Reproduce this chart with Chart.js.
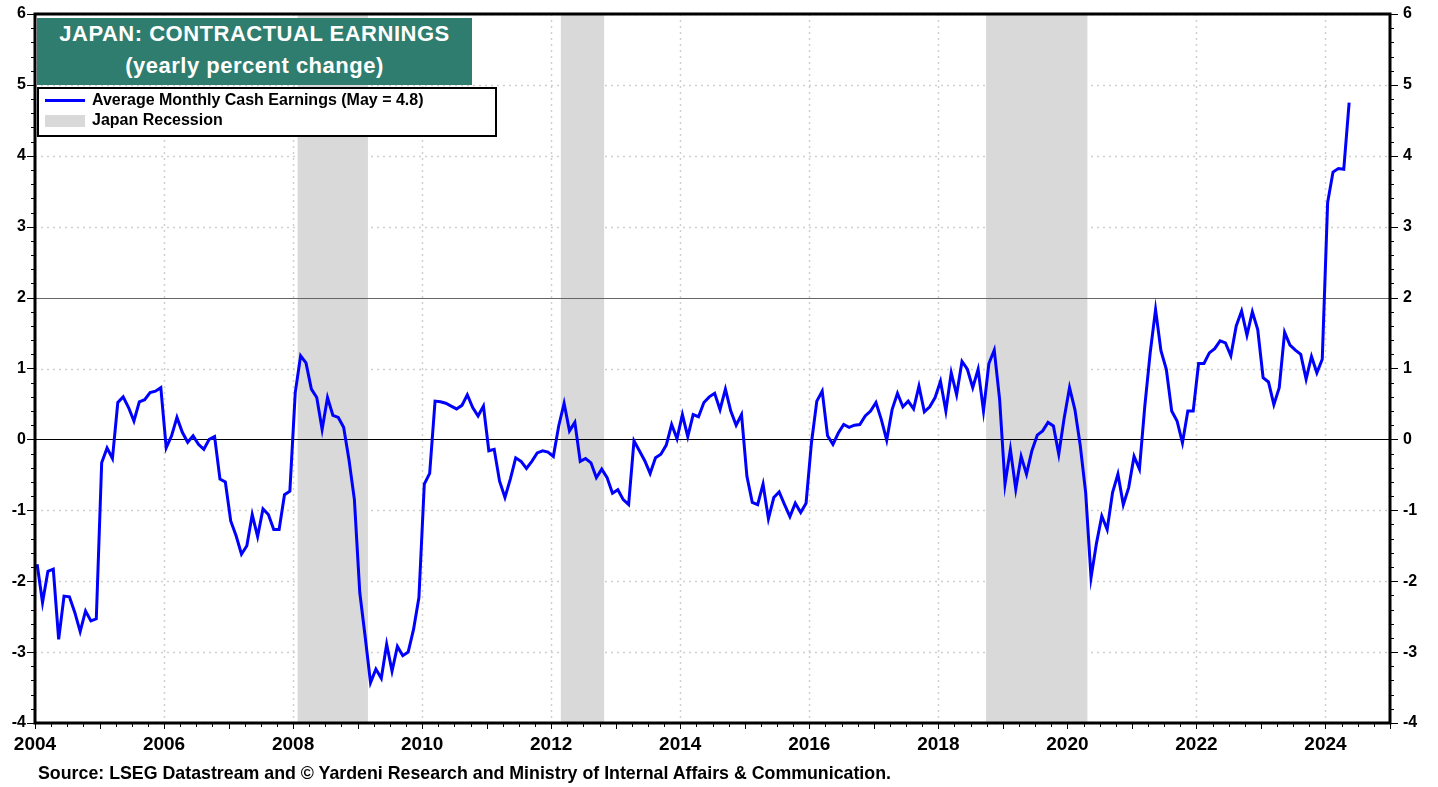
<!DOCTYPE html>
<html>
<head>
<meta charset="utf-8">
<script src="https://cdn.jsdelivr.net/npm/chart.js@4.4.1/dist/chart.umd.min.js"></script>
<style>
  body { margin: 0; background: #fff; }
  #wrap { position: relative; width: 1438px; height: 787px; }
  #title {
    position: absolute; left: 37px; top: 18px; width: 435px; height: 67px;
    background: #2f7d6e; color: #fff; text-align: center;
    font: bold 22px "Liberation Sans", Arial, sans-serif; line-height: 32px;
    letter-spacing: 0.5px;
  }
  #legend {
    position: absolute; left: 37px; top: 87px; width: 460px; height: 50px;
    box-sizing: border-box; border: 2px solid #000; background: #fff;
    font: bold 16px "Liberation Sans", Arial, sans-serif; color: #000;
  }
  #legend .row { position: absolute; left: 53px; line-height: 20px; }
  #legend .line { position: absolute; left: 6px; top: 10px; width: 40px; height: 3px; background: #0000ff; }
  #legend .box { position: absolute; left: 6px; top: 26px; width: 40px; height: 12px; background: #d9d9d9; }
  #source {
    position: absolute; left: 38px; top: 763px;
    font: bold 17.8px "Liberation Sans", Arial, sans-serif; color: #000;
  }
</style>
</head>
<body>
<div id="wrap">
  <canvas id="chart" width="1438" height="787"></canvas>
  <div id="title">JAPAN: CONTRACTUAL EARNINGS<br>(yearly percent change)</div>
  <div id="legend">
    <div class="line"></div>
    <div class="row" style="top:1px">Average Monthly Cash Earnings (May = 4.8)</div>
    <div class="box"></div>
    <div class="row" style="top:21px">Japan Recession</div>
  </div>
  <div id="source">Source: LSEG Datastream and © Yardeni Research and Ministry of Internal Affairs &amp; Communication.</div>
</div>
<script>
// Monthly yearly % change, Jan 2004 .. May 2024
const startYear = 2004;
const earnings = [
    -1.76, -2.30, -1.86, -1.83, -2.82, -2.21, -2.22, -2.44, -2.71, -2.42, -2.56, -2.53, // 2004
    -0.33, -0.12, -0.27, 0.52, 0.60, 0.45, 0.26, 0.53, 0.56, 0.66, 0.68, 0.73,         // 2005
    -0.12, 0.05, 0.31, 0.10, -0.04, 0.05, -0.07, -0.14, 0.00, 0.04, -0.56, -0.60,       // 2006
    -1.15, -1.36, -1.62, -1.50, -1.06, -1.37, -0.98, -1.06, -1.27, -1.27, -0.78, -0.73, // 2007
    0.66, 1.18, 1.08, 0.71, 0.59, 0.14, 0.59, 0.34, 0.31, 0.17, -0.29, -0.85,           // 2008
    -2.16, -2.78, -3.43, -3.24, -3.37, -2.89, -3.27, -2.92, -3.05, -3.00, -2.68, -2.23, // 2009
    -0.63, -0.48, 0.54, 0.53, 0.51, 0.47, 0.43, 0.48, 0.63, 0.45, 0.33, 0.47,          // 2010
    -0.16, -0.14, -0.59, -0.82, -0.56, -0.26, -0.31, -0.41, -0.31, -0.19, -0.16, -0.18, // 2011
    -0.24, 0.19, 0.51, 0.12, 0.24, -0.31, -0.27, -0.33, -0.54, -0.42, -0.54, -0.76,     // 2012
    -0.71, -0.85, -0.92, -0.02, -0.16, -0.30, -0.48, -0.26, -0.21, -0.08, 0.21, 0.01,   // 2013
    0.35, 0.04, 0.35, 0.32, 0.52, 0.60, 0.65, 0.42, 0.71, 0.40, 0.20, 0.35,            // 2014
    -0.52, -0.89, -0.92, -0.63, -1.12, -0.82, -0.74, -0.92, -1.09, -0.90, -1.03, -0.90, // 2015
    -0.05, 0.54, 0.68, 0.05, -0.07, 0.09, 0.21, 0.17, 0.20, 0.21, 0.33, 0.40,          // 2016
    0.52, 0.28, -0.01, 0.42, 0.65, 0.46, 0.54, 0.43, 0.75, 0.39, 0.46, 0.59,           // 2017
    0.82, 0.40, 0.94, 0.63, 1.10, 0.99, 0.73, 0.99, 0.40, 1.07, 1.26, 0.56,            // 2018
    -0.63, -0.14, -0.70, -0.24, -0.49, -0.16, 0.06, 0.12, 0.24, 0.19, -0.21, 0.30,      // 2019
    0.73, 0.42, -0.09, -0.75, -1.95, -1.47, -1.08, -1.27, -0.75, -0.49, -0.92, -0.68,   // 2020
    -0.24, -0.42, 0.47, 1.22, 1.83, 1.25, 0.99, 0.40, 0.26, -0.05, 0.40, 0.40,          // 2021
    1.07, 1.07, 1.22, 1.28, 1.39, 1.36, 1.18, 1.60, 1.81, 1.47, 1.80, 1.55,            // 2022
    0.87, 0.81, 0.49, 0.73, 1.51, 1.33, 1.26, 1.20, 0.85, 1.17, 0.94, 1.13,            // 2023
    3.34, 3.77, 3.82, 3.81, 4.75                                                        // 2024
];

// Japan recessions (decimal years)
const recessionStart = [2008.07, 2012.15, 2018.74];
const recessionEnd = [2009.16, 2012.82, 2020.31];

// Axis ticks
const yTicks = [-4, -3, -2, -1, 0, 1, 2, 3, 4, 5, 6];
const xTicks = [2004, 2006, 2008, 2010, 2012, 2014, 2016, 2018, 2020, 2022, 2024];

const points = earnings.map((v, i) => ({
    x: startYear + Math.floor(i / 12) + ((i % 12) + 0.4) / 12,
    y: v
}));

const tickFont = { family: "'Liberation Sans', Arial, sans-serif", size: 16, weight: 'bold' };
const xFont = { family: "'Liberation Sans', Arial, sans-serif", size: 19, weight: 'bold' };

// fixed axis sizes so the plot area lines up with the original
function fitY(width) {
    return s => {
        s.width = width;
        s.paddingTop = 0;
        s.paddingBottom = 0;
    };
}

// Grid, recession shading and reference lines behind the series
const backdrop = {
    id: 'backdrop',
    beforeDatasetsDraw(chart) {
        const { ctx, chartArea: a, scales } = chart;
        const x = scales.x, y = scales.y;
        ctx.save();
        ctx.strokeStyle = '#cfcfcf';
        ctx.lineWidth = 1.5;
        ctx.setLineDash([2, 4]);
        yTicks.forEach(v => {
            if (v === 0 || v === 2) return;
            const py = Math.round(y.getPixelForValue(v)) + 0.5;
            ctx.beginPath(); ctx.moveTo(a.left, py); ctx.lineTo(a.right, py); ctx.stroke();
        });
        xTicks.forEach(v => {
            const px = Math.round(x.getPixelForValue(v)) + 0.5;
            ctx.beginPath(); ctx.moveTo(px, a.top); ctx.lineTo(px, a.bottom); ctx.stroke();
        });
        ctx.setLineDash([]);

        // recession bars
        ctx.fillStyle = '#d9d9d9';
        recessionStart.forEach((s, i) => {
            const x0 = x.getPixelForValue(s), x1 = x.getPixelForValue(recessionEnd[i]);
            ctx.fillRect(x0, a.top, x1 - x0, a.bottom - a.top);
        });

        // zero line and 2% line
        ctx.lineWidth = 1.2;
        ctx.strokeStyle = '#000';
        let py = Math.round(y.getPixelForValue(0)) + 0.5;
        ctx.beginPath(); ctx.moveTo(a.left, py); ctx.lineTo(a.right, py); ctx.stroke();
        ctx.strokeStyle = '#666';
        py = Math.round(y.getPixelForValue(2)) + 0.5;
        ctx.beginPath(); ctx.moveTo(a.left, py); ctx.lineTo(a.right, py); ctx.stroke();
        ctx.restore();
    },
    afterDraw(chart) {
        const { ctx, chartArea: a, scales } = chart;
        const x = scales.x, y = scales.y;
        ctx.save();
        ctx.strokeStyle = '#000';
        // minor / major ticks on y axes
        ctx.lineWidth = 1;
        for (let v = -4; v <= 6.001; v += 0.2) {
            const py = Math.round(y.getPixelForValue(v)) + 0.5;
            const major = Math.abs(v - Math.round(v)) < 0.01;
            const len = major ? 8 : 4;
            ctx.beginPath();
            ctx.moveTo(a.left - len, py); ctx.lineTo(a.left, py);
            ctx.moveTo(a.right, py); ctx.lineTo(a.right + len, py);
            ctx.stroke();
        }
        // quarterly ticks on x axis
        for (let v = 2004; v <= 2025.001; v += 0.25) {
            const px = Math.round(x.getPixelForValue(v)) + 0.5;
            const major = Math.abs(v - Math.round(v)) < 0.01;
            ctx.beginPath();
            ctx.moveTo(px, a.bottom); ctx.lineTo(px, a.bottom + (major ? 6 : 4));
            ctx.stroke();
        }
        // frame
        ctx.lineWidth = 3;
        ctx.strokeRect(a.left, a.top, a.right - a.left, a.bottom - a.top);
        ctx.restore();
    }
};

const ctx = document.getElementById('chart').getContext('2d');
const chart = new Chart(ctx, {
    type: 'line',
    data: {
        datasets: [{
            label: 'Average Monthly Cash Earnings (May = 4.8)',
            data: points,
            borderColor: '#0000ff',
            borderWidth: 3,
            pointRadius: 0,
            tension: 0,
            fill: false
        }]
    },
    options: {
        responsive: false,
        animation: false,
        events: [],
        layout: { padding: { top: 14, left: 0, right: 0, bottom: 0 } },
        plugins: { legend: { display: false }, tooltip: { enabled: false } },
        scales: {
            x: {
                type: 'linear',
                min: 2004,
                max: 2025,
                afterFit: s => { s.height = 64; s.paddingLeft = 0; s.paddingRight = 0; },
                afterBuildTicks: s => { s.ticks = xTicks.map(v => ({ value: v })); },
                grid: { display: false, drawTicks: false },
                border: { display: false },
                ticks: { autoSkip: false, maxRotation: 0, padding: 10, color: '#000', font: xFont, callback: v => String(v) }
            },
            y: {
                position: 'left',
                min: -4,
                max: 6,
                afterFit: fitY(35),
                afterBuildTicks: s => { s.ticks = yTicks.map(v => ({ value: v })); },
                grid: { display: false, drawTicks: false },
                border: { display: false },
                ticks: { padding: 9, color: '#000', font: tickFont, callback: v => String(v) }
            },
            y2: {
                position: 'right',
                min: -4,
                max: 6,
                afterFit: fitY(48),
                afterBuildTicks: s => { s.ticks = yTicks.map(v => ({ value: v })); },
                grid: { display: false, drawTicks: false },
                border: { display: false },
                ticks: { padding: 13, color: '#000', font: tickFont, callback: v => String(v) }
            }
        }
    },
    plugins: [backdrop]
});
</script>
</body>
</html>
